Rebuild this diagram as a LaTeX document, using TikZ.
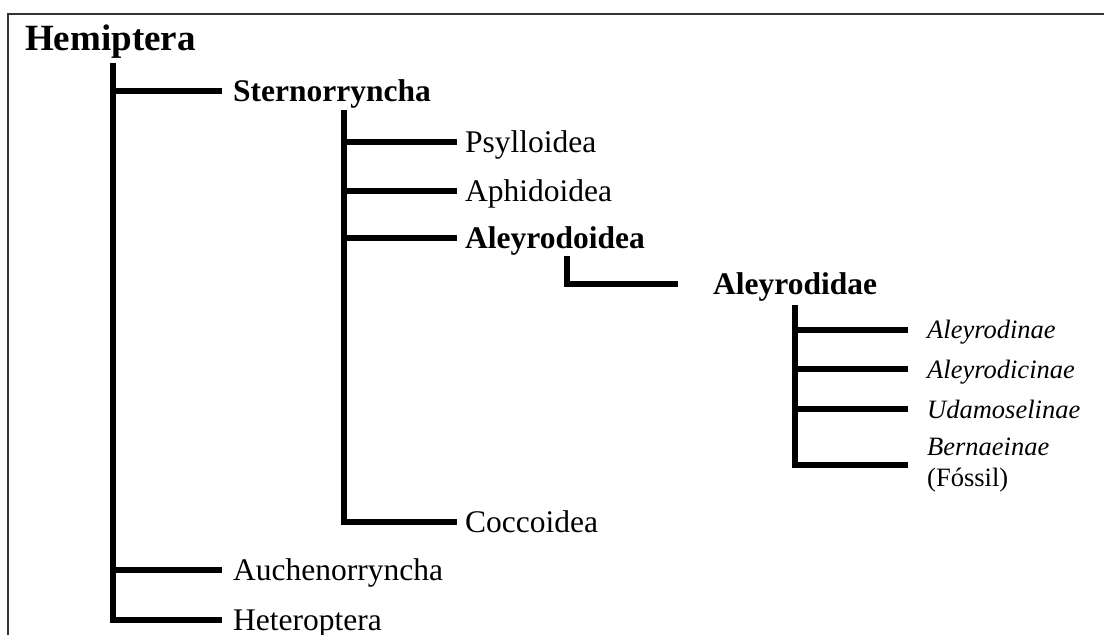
\documentclass[tikz,border=0pt]{standalone}
\usepackage{fontspec}
\setmainfont{Liberation Serif}
\begin{document}
\begin{tikzpicture}[x=1pt,y=-1pt,
  tree/.style={line width=6pt, line join=miter},
  frame/.style={line width=1.8pt, black!80},
  lbl/.style={anchor=west, inner sep=0pt, text depth=0pt, font=\fontsize{31.5}{38}\selectfont},
  blbl/.style={lbl, font=\fontsize{31.5}{38}\selectfont\bfseries},
  ilbl/.style={lbl, font=\fontsize{26.5}{32}\selectfont\itshape}]
\useasboundingbox (0,0) rectangle (1104,635);
\draw[frame] (8,645) -- (8,14) -- (1115,14);

% labels
\node[anchor=base west, inner sep=0pt, font=\fontsize{37}{44}\selectfont\bfseries] (hemi) at (25,50) {Hemiptera};
\node[blbl] (stern) at (233,91) {Sternorryncha};
\node[lbl] (auch) at (233,569.5) {Auchenorryncha};
\node[lbl] (het) at (233,620) {Heteroptera};
\node[lbl] (psy) at (465,141.7) {Psylloidea};
\node[lbl] (aph) at (465,191) {Aphidoidea};
\node[blbl] (aleyoid) at (465,237.5) {Aleyrodoidea};
\node[lbl] (cocc) at (465,521.5) {Coccoidea};
\node[blbl] (aleyid) at (713,283.5) {Aleyrodidae};
\node[ilbl] (sa) at (927,329.5) {Aleyrodinae};
\node[ilbl] (sb) at (927,369) {Aleyrodicinae};
\node[ilbl] (sc) at (927,409) {Udamoselinae};
\node[anchor=west, inner sep=0pt, align=left, font=\fontsize{26.5}{31.5}\selectfont] (bern) at (927,465) {\textit{Bernaeinae}\\(Fóssil)};

% stems
\coordinate (mtop) at (112.5,63);
\coordinate (stop) at (344,110);
\coordinate (atop) at (567,256);
\coordinate (dtop) at (795,305);

% Hemiptera
\draw[tree, shorten >=11pt] (mtop) |- (het.west);
\draw[tree, shorten >=11pt] (mtop |- stern.west) -- (stern.west);
\draw[tree, shorten >=11pt] (mtop |- auch.west) -- (auch.west);

% Sternorryncha
\draw[tree, shorten >=8pt] (stop) |- (cocc.west);
\draw[tree, shorten >=8pt] (stop |- psy.west) -- (psy.west);
\draw[tree, shorten >=8pt] (stop |- aph.west) -- (aph.west);
\draw[tree, shorten >=8pt] (stop |- aleyoid.west) -- (aleyoid.west);

% Aleyrodoidea -> Aleyrodidae
\draw[tree, shorten >=35pt] (atop) |- (aleyid.west);

% Aleyrodidae
\draw[tree, shorten >=19pt] (dtop) |- (bern.west);
\draw[tree, shorten >=19pt] (dtop |- sa.west) -- (sa.west);
\draw[tree, shorten >=19pt] (dtop |- sb.west) -- (sb.west);
\draw[tree, shorten >=19pt] (dtop |- sc.west) -- (sc.west);
\end{tikzpicture}
\end{document}
